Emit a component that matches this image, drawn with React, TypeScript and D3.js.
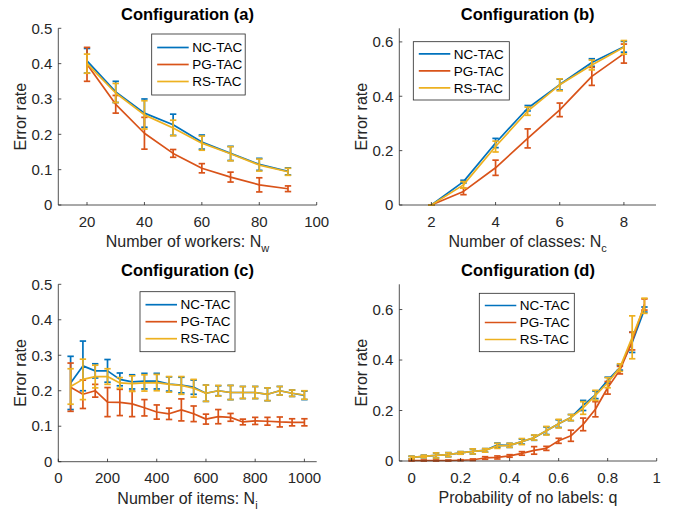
import React from "react";
import * as d3 from "d3";

const seriesNames = ["NC-TAC", "PG-TAC", "RS-TAC"];
const seriesColors = ["#0072BD", "#D95319", "#EDB120"];

// Configuration (a): number of workers
const workers = [20, 30, 40, 50, 60, 70, 80, 90];
const ncA = [0.408, 0.32, 0.26, 0.227, 0.178, 0.146, 0.115, 0.095];
const ncErrA = [0.035, 0.03, 0.04, 0.03, 0.02, 0.02, 0.017, 0.01];
const pgA = [0.398, 0.285, 0.203, 0.146, 0.104, 0.079, 0.057, 0.046];
const pgErrA = [0.048, 0.025, 0.045, 0.011, 0.013, 0.014, 0.02, 0.008];
const rsA = [0.4, 0.317, 0.255, 0.218, 0.175, 0.145, 0.113, 0.094];
const rsErrA = [0.027, 0.027, 0.04, 0.022, 0.02, 0.02, 0.017, 0.01];

// Configuration (b): number of classes
const classes = [2, 3, 4, 5, 6, 7, 8];
const ncB = [0, 0.086, 0.228, 0.356, 0.443, 0.524, 0.582];
const ncErrB = [0, 0.005, 0.017, 0.01, 0.02, 0.014, 0.02];
const pgB = [0, 0.05, 0.137, 0.245, 0.35, 0.473, 0.557];
const pgErrB = [0, 0.012, 0.028, 0.035, 0.025, 0.033, 0.035];
const rsB = [0, 0.074, 0.215, 0.345, 0.442, 0.515, 0.58];
const rsErrB = [0, 0.012, 0.02, 0.015, 0.022, 0.018, 0.025];

// Configuration (c): number of items
const items = [50, 100, 150, 200, 250, 300, 350, 400, 450, 500, 550, 600, 650, 700, 750, 800, 850, 900, 950, 1000];
const ncC = [0.222, 0.27, 0.256, 0.256, 0.232, 0.225, 0.227, 0.227, 0.219, 0.216, 0.21, 0.193, 0.2, 0.195, 0.195, 0.195, 0.19, 0.2, 0.193, 0.187];
const ncErrC = [0.075, 0.07, 0.02, 0.032, 0.018, 0.02, 0.022, 0.022, 0.02, 0.022, 0.02, 0.023, 0.014, 0.02, 0.017, 0.017, 0.018, 0.012, 0.009, 0.012];
const pgC = [0.21, 0.19, 0.2, 0.168, 0.167, 0.163, 0.152, 0.14, 0.135, 0.146, 0.135, 0.12, 0.127, 0.125, 0.112, 0.115, 0.114, 0.112, 0.111, 0.111];
const pgErrC = [0.068, 0.04, 0.018, 0.041, 0.037, 0.036, 0.023, 0.02, 0.016, 0.031, 0.022, 0.014, 0.02, 0.011, 0.008, 0.01, 0.011, 0.014, 0.01, 0.01];
const rsC = [0.212, 0.232, 0.24, 0.24, 0.222, 0.22, 0.222, 0.223, 0.218, 0.215, 0.207, 0.193, 0.2, 0.195, 0.195, 0.195, 0.19, 0.2, 0.193, 0.188];
const rsErrC = [0.05, 0.057, 0.032, 0.022, 0.015, 0.022, 0.023, 0.023, 0.022, 0.025, 0.025, 0.023, 0.015, 0.02, 0.017, 0.017, 0.018, 0.012, 0.009, 0.012];

// Configuration (d): probability of no labels
const probs = [0, 0.05, 0.1, 0.15, 0.2, 0.25, 0.3, 0.35, 0.4, 0.45, 0.5, 0.55, 0.6, 0.65, 0.7, 0.75, 0.8, 0.85, 0.9, 0.95];
const ncD = [0.014, 0.018, 0.022, 0.025, 0.032, 0.038, 0.042, 0.063, 0.062, 0.077, 0.092, 0.12, 0.148, 0.172, 0.22, 0.262, 0.32, 0.37, 0.47, 0.6];
const ncErrD = [0.005, 0.005, 0.01, 0.008, 0.005, 0.01, 0.007, 0.008, 0.008, 0.01, 0.01, 0.015, 0.015, 0.012, 0.02, 0.015, 0.012, 0.01, 0.04, 0.01];
const pgD = [0.002, 0.002, 0.002, 0.002, 0.003, 0.005, 0.012, 0.014, 0.02, 0.03, 0.042, 0.05, 0.08, 0.1, 0.145, 0.205, 0.29, 0.36, 0.475, 0.62];
const pgErrD = [0.002, 0.002, 0.002, 0.002, 0.002, 0.003, 0.005, 0.006, 0.005, 0.007, 0.015, 0.008, 0.01, 0.022, 0.025, 0.03, 0.025, 0.015, 0.035, 0.022];
const rsD = [0.014, 0.018, 0.022, 0.025, 0.032, 0.038, 0.042, 0.06, 0.062, 0.077, 0.093, 0.12, 0.148, 0.172, 0.21, 0.26, 0.31, 0.37, 0.49, 0.615];
const rsErrD = [0.005, 0.005, 0.01, 0.008, 0.005, 0.01, 0.007, 0.01, 0.008, 0.012, 0.01, 0.017, 0.017, 0.012, 0.025, 0.02, 0.02, 0.015, 0.085, 0.03];

const FONT = "'Liberation Sans', Arial, Helvetica, sans-serif";
const AX = "#262626";

const panels = [
  {
    title: "Configuration (a)", xlab: "Number of workers: N", sub: "w",
    xs: workers, means: [ncA, pgA, rsA], errs: [ncErrA, pgErrA, rsErrA],
    left: 58.3, right: 316.7, top: 28.3, bottom: 205,
    xDomain: [10, 100], yDomain: [0, 0.5],
    xTicks: [20, 40, 60, 80, 100], yTicks: [0, 0.1, 0.2, 0.3, 0.4, 0.5],
    legend: { x: 151.7, y: 34, w: 93.5, h: 61 },
  },
  {
    title: "Configuration (b)", xlab: "Number of classes: N", sub: "c",
    xs: classes, means: [ncB, pgB, rsB], errs: [ncErrB, pgErrB, rsErrB],
    left: 399.3, right: 656, top: 28.3, bottom: 205,
    xDomain: [1, 9], yDomain: [0, 0.65],
    xTicks: [2, 4, 6, 8], yTicks: [0, 0.2, 0.4, 0.6],
    legend: { x: 413.3, y: 41.7, w: 96, h: 58.3 },
  },
  {
    title: "Configuration (c)", xlab: "Number of items: N", sub: "i",
    xs: items, means: [ncC, pgC, rsC], errs: [ncErrC, pgErrC, rsErrC],
    left: 58.3, right: 316.7, top: 284.3, bottom: 461.7,
    xDomain: [0, 1050], yDomain: [0, 0.5],
    xTicks: [0, 200, 400, 600, 800, 1000], yTicks: [0, 0.1, 0.2, 0.3, 0.4, 0.5],
    legend: { x: 140, y: 291.7, w: 95, h: 60 },
  },
  {
    title: "Configuration (d)", xlab: "Probability of no labels: q", sub: "",
    xs: probs, means: [ncD, pgD, rsD], errs: [ncErrD, pgErrD, rsErrD],
    left: 399.3, right: 656.7, top: 284.3, bottom: 461,
    xDomain: [-0.05, 1], yDomain: [0, 0.7],
    xTicks: [0, 0.2, 0.4, 0.6, 0.8, 1], yTicks: [0, 0.2, 0.4, 0.6],
    legend: { x: 479.3, y: 293.3, w: 95, h: 58.4 },
  },
];

const fmt = (v: number) => String(+v.toFixed(2));

function Panel({ p }: { p: any }) {
  const x = d3.scaleLinear().domain(p.xDomain).range([p.left, p.right]);
  const y = d3.scaleLinear().domain(p.yDomain).range([p.bottom, p.top]);
  const line = d3.line<number>().x((_, i) => x(p.xs[i])).y((d) => y(d));
  const midX = (p.left + p.right) / 2;
  const midY = (p.top + p.bottom) / 2;
  const cap = 3.2;
  const lg = p.legend;

  return (
    <g>
      {/* series with error bars */}
      {p.means.map((m: number[], s: number) => (
        <g key={s} stroke={seriesColors[s]} strokeWidth={1.7} fill="none">
          <path d={line(m) || ""} strokeLinejoin="round" />
          {m.map((v, i) => {
            const cx = x(p.xs[i]);
            const y1 = y(v - p.errs[s][i]);
            const y2 = y(v + p.errs[s][i]);
            return (
              <g key={i}>
                <line x1={cx} x2={cx} y1={y1} y2={y2} />
                <line x1={cx - cap} x2={cx + cap} y1={y1} y2={y1} />
                <line x1={cx - cap} x2={cx + cap} y1={y2} y2={y2} />
              </g>
            );
          })}
        </g>
      ))}

      {/* axes */}
      <g stroke={AX} strokeWidth={0.8}>
        <line x1={p.left} x2={p.right} y1={p.bottom} y2={p.bottom} />
        <line x1={p.left} x2={p.left} y1={p.top} y2={p.bottom} />
        {p.xTicks.map((t: number) => (
          <line key={"xt" + t} x1={x(t)} x2={x(t)} y1={p.bottom} y2={p.bottom - 3} />
        ))}
        {p.yTicks.map((t: number) => (
          <line key={"yt" + t} x1={p.left} x2={p.left + 3} y1={y(t)} y2={y(t)} />
        ))}
      </g>
      <g fill={AX} fontFamily={FONT} fontSize={15}>
        {p.xTicks.map((t: number) => (
          <text key={"xl" + t} x={x(t)} y={p.bottom + 21.5} textAnchor="middle">{fmt(t)}</text>
        ))}
        {p.yTicks.map((t: number) => (
          <text key={"yl" + t} x={p.left - 6} y={y(t)} dy="0.35em" textAnchor="end">{fmt(t)}</text>
        ))}
      </g>

      {/* labels */}
      <text x={midX} y={p.top - 8} textAnchor="middle" fontFamily={FONT} fontSize={16.5} fontWeight="bold" fill="#000">
        {p.title}
      </text>
      <text x={midX} y={p.bottom + 42} textAnchor="middle" fontFamily={FONT} fontSize={16} fill={AX}>
        {p.xlab}
        {p.sub && (
          <tspan fontSize={11} dy={5}>{p.sub}</tspan>
        )}
      </text>
      <text transform={`translate(${p.left - 32},${midY}) rotate(-90)`} textAnchor="middle" fontFamily={FONT} fontSize={16} fill={AX}>
        Error rate
      </text>

      {/* legend */}
      <rect x={lg.x} y={lg.y} width={lg.w} height={lg.h} fill="#fff" stroke={AX} strokeWidth={0.8} />
      {seriesNames.map((n, s) => {
        const ry = lg.y + lg.h / 2 + (s - 1) * 17;
        return (
          <g key={n}>
            <line x1={lg.x + 5.5} x2={lg.x + 37} y1={ry} y2={ry} stroke={seriesColors[s]} strokeWidth={1.7} />
            <text x={lg.x + 40.5} y={ry} dy="0.35em" fontFamily={FONT} fontSize={13.5} fill="#000">{n}</text>
          </g>
        );
      })}
    </g>
  );
}

export default function App() {
  return (
    <svg width={673} height={513} style={{ position: "absolute", left: 0, top: 0, background: "#fff" }}>
      <rect width={673} height={513} fill="#fff" />
      {panels.map((p) => (
        <Panel key={p.title} p={p} />
      ))}
    </svg>
  );
}
